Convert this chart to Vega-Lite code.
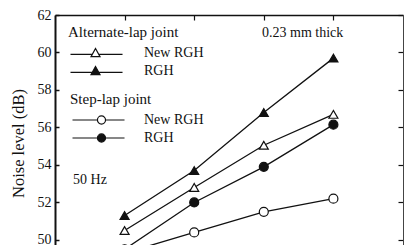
{
  "$schema": "https://vega.github.io/schema/vega-lite/v6.json",
  "autosize": {"type": "none"},
  "width": 348,
  "height": 230,
  "padding": {"left": 55, "top": 15, "right": 2, "bottom": 0},
  "background": "white",
  "config": {
    "view": {"stroke": null},
    "font": "Liberation Serif",
    "axis": {"grid": false, "labelFont": "Liberation Serif", "titleFont": "Liberation Serif", "labelColor": "#111", "titleColor": "#111", "domainColor": "#111", "tickColor": "#111"},
    "legend": {"labelFont": "Liberation Serif", "titleFont": "Liberation Serif", "labelColor": "#111", "titleColor": "#111"}
  },
  "datasets": {
    "series": [
      {"joint": "Alternate-lap joint", "grade": "New RGH", "b": 1.2, "noise": 50.5},
      {"joint": "Alternate-lap joint", "grade": "New RGH", "b": 1.4, "noise": 52.8},
      {"joint": "Alternate-lap joint", "grade": "New RGH", "b": 1.6, "noise": 55.05},
      {"joint": "Alternate-lap joint", "grade": "New RGH", "b": 1.8, "noise": 56.7},
      {"joint": "Alternate-lap joint", "grade": "RGH", "b": 1.2, "noise": 51.3},
      {"joint": "Alternate-lap joint", "grade": "RGH", "b": 1.4, "noise": 53.7},
      {"joint": "Alternate-lap joint", "grade": "RGH", "b": 1.6, "noise": 56.8},
      {"joint": "Alternate-lap joint", "grade": "RGH", "b": 1.8, "noise": 59.7},
      {"joint": "Step-lap joint", "grade": "New RGH", "b": 1.2, "noise": 49.3},
      {"joint": "Step-lap joint", "grade": "New RGH", "b": 1.4, "noise": 50.4},
      {"joint": "Step-lap joint", "grade": "New RGH", "b": 1.6, "noise": 51.5},
      {"joint": "Step-lap joint", "grade": "New RGH", "b": 1.8, "noise": 52.2},
      {"joint": "Step-lap joint", "grade": "RGH", "b": 1.2, "noise": 49.5},
      {"joint": "Step-lap joint", "grade": "RGH", "b": 1.4, "noise": 52.0},
      {"joint": "Step-lap joint", "grade": "RGH", "b": 1.6, "noise": 53.9},
      {"joint": "Step-lap joint", "grade": "RGH", "b": 1.8, "noise": 56.15}
    ],
    "notes": [
      {"b": 1.595, "noise": 61.04, "label": "0.23 mm thick"},
      {"b": 1.052, "noise": 53.2, "label": "50 Hz"}
    ]
  },
  "resolve": {"scale": {"fill": "independent"}, "axis": {"x": "independent", "y": "independent"}},
  "layer": [
    {
      "data": {"name": "series"},
      "transform": [{"filter": "datum.joint === 'Alternate-lap joint'"}],
      "mark": {"type": "line", "color": "#111", "strokeWidth": 1.3, "clip": true},
      "encoding": {
        "x": {"field": "b", "type": "quantitative", "scale": {"domain": [1.0, 2.0], "nice": false, "zero": false},
              "axis": {"orient": "top", "values": [1.2, 1.4, 1.6, 1.8], "labels": false, "title": null, "tickSize": -5, "tickWidth": 1.2, "domainWidth": 1.5}},
        "y": {"field": "noise", "type": "quantitative", "scale": {"domain": [49.73, 62], "nice": false, "zero": false},
              "axis": {"orient": "left", "values": [50, 52, 54, 56, 58, 60, 62], "tickSize": -4, "tickWidth": 1.5, "domainWidth": 2,
                       "labelFontSize": 14, "labelPadding": 8, "title": "Noise level (dB)", "titleFontSize": 16.5, "titleFontWeight": "normal", "titlePadding": 11, "titleY": 128}},
        "detail": {"field": "grade"}
      }
    },
    {
      "data": {"name": "series"},
      "transform": [{"filter": "datum.joint === 'Alternate-lap joint'"}],
      "mark": {"type": "point", "shape": "triangle-up", "size": 81, "filled": true, "stroke": "#111", "strokeWidth": 1.2, "opacity": 1, "clip": true},
      "encoding": {
        "x": {"field": "b", "type": "quantitative", "axis": null},
        "y": {"field": "noise", "type": "quantitative",
              "axis": {"orient": "right", "values": [50, 52, 54, 56, 58, 60, 62], "labels": false, "title": null, "tickSize": -5, "tickWidth": 1.2, "domainWidth": 1, "domainColor": "#444"}},
        "fill": {"field": "grade", "type": "nominal", "scale": {"domain": ["New RGH", "RGH"], "range": ["white", "#111"]},
                 "legend": {"orient": "none", "legendX": 13, "legendY": 10, "title": "Alternate-lap joint", "titleFontSize": 15, "titleFontWeight": "normal", "titlePadding": 6,
                            "symbolType": "M-1,0.3L3.84,0.3M5.28,0.3L10.56,0.3M4.56,-1L5.56,0.8L3.56,0.8Z", "symbolSize": 81, "symbolStrokeColor": "#111", "symbolStrokeWidth": 1.2,
                            "labelFontSize": 14, "labelOffset": 62, "rowPadding": 4, "padding": 0}}
      }
    },
    {
      "data": {"name": "series"},
      "transform": [{"filter": "datum.joint === 'Step-lap joint'"}],
      "mark": {"type": "line", "color": "#111", "strokeWidth": 1.3, "clip": true},
      "encoding": {
        "x": {"field": "b", "type": "quantitative", "axis": null},
        "y": {"field": "noise", "type": "quantitative", "axis": null},
        "detail": {"field": "grade"}
      }
    },
    {
      "data": {"name": "series"},
      "transform": [{"filter": "datum.joint === 'Step-lap joint'"}],
      "mark": {"type": "point", "shape": "circle", "size": 81, "filled": true, "stroke": "#111", "strokeWidth": 1.2, "opacity": 1, "clip": true},
      "encoding": {
        "x": {"field": "b", "type": "quantitative", "axis": null},
        "y": {"field": "noise", "type": "quantitative", "axis": null},
        "fill": {"field": "grade", "type": "nominal", "scale": {"domain": ["New RGH", "RGH"], "range": ["white", "#111"]},
                 "legend": {"orient": "none", "legendX": 15, "legendY": 77, "title": "Step-lap joint", "titleFontSize": 15, "titleFontWeight": "normal", "titlePadding": 6,
                            "symbolType": "M-1,0L4.54,0M6.34,0L10.56,0M4.54,0A0.9,0.9 0 1,0 6.34,0A0.9,0.9 0 1,0 4.54,0Z", "symbolSize": 81, "symbolStrokeColor": "#111", "symbolStrokeWidth": 1.2,
                            "labelFontSize": 14, "labelOffset": 60, "rowPadding": 4, "padding": 0}}
      }
    },
    {
      "data": {"name": "notes"},
      "mark": {"type": "text", "align": "left", "baseline": "middle", "font": "Liberation Serif", "fontSize": 14, "color": "#111"},
      "encoding": {
        "x": {"field": "b", "type": "quantitative", "axis": null},
        "y": {"field": "noise", "type": "quantitative", "axis": null},
        "text": {"field": "label"}
      }
    }
  ]
}
